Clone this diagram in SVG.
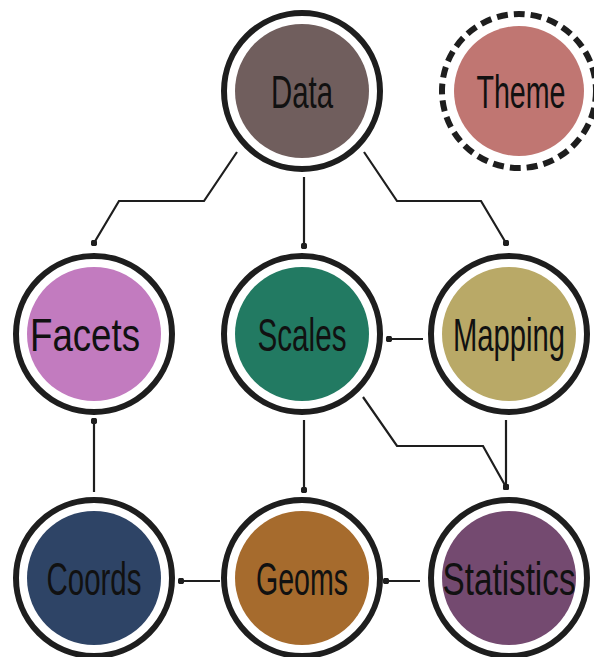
<svg xmlns="http://www.w3.org/2000/svg" width="594" height="657" viewBox="0 0 594 657">
<style>
.ring{fill:#fff;stroke:#1e1e1e;stroke-width:6}
.dash{fill:#fff;stroke:#1e1e1e;stroke-width:6;stroke-dasharray:11 6}
.lbl{font-family:"Liberation Sans","DejaVu Sans",sans-serif;font-size:46px;fill:#111;text-anchor:middle}
.edge{fill:none;stroke:#1e1e1e;stroke-width:2.2;marker-end:url(#dot)}
</style>
<defs>
<marker id="dot" viewBox="0 0 6 6" refX="3" refY="3" markerWidth="3" markerHeight="3" markerUnits="strokeWidth"><circle cx="3" cy="3" r="3" fill="#1e1e1e"/></marker>
</defs>
<rect width="594" height="657" fill="#fff"/>
<g id="connectors">
<polyline class="edge" points="237,152 204,201 119,201 94,243"/>
<line class="edge" x1="304" y1="177" x2="304" y2="246"/>
<polyline class="edge" points="364,152 397,201 481,201 506,243"/>
<line class="edge" x1="423" y1="339" x2="389" y2="339"/>
<line class="edge" x1="506" y1="420" x2="506" y2="487"/>
<polyline class="edge" points="363,397 397,446 483,446 506,487"/>
<line class="edge" x1="304" y1="420" x2="304" y2="490"/>
<line class="edge" x1="94" y1="492" x2="94" y2="421"/>
<line class="edge" x1="420" y1="581" x2="386" y2="581"/>
<line class="edge" x1="220" y1="581" x2="181" y2="581"/>
</g>
<g id="data"><circle class="ring" cx="302" cy="91" r="78"/><circle cx="302" cy="91" r="67" fill="#705e5d"/><text class="lbl" x="302" y="108" textLength="62" lengthAdjust="spacingAndGlyphs">Data</text></g>
<g id="theme"><circle class="dash" cx="519" cy="91" r="77"/><circle cx="519" cy="91" r="65" fill="#c07672"/><text class="lbl" x="521" y="108" textLength="89" lengthAdjust="spacingAndGlyphs">Theme</text></g>
<g id="facets"><circle class="ring" cx="94" cy="334" r="78"/><circle cx="94" cy="334" r="67" fill="#c27bbf"/><text class="lbl" x="85" y="351" textLength="110" lengthAdjust="spacingAndGlyphs">Facets</text></g>
<g id="scales"><circle class="ring" cx="302" cy="334" r="78"/><circle cx="302" cy="334" r="67" fill="#227a62"/><text class="lbl" x="302" y="351" textLength="89" lengthAdjust="spacingAndGlyphs">Scales</text></g>
<g id="mapping"><circle class="ring" cx="509" cy="334" r="78"/><circle cx="509" cy="334" r="67" fill="#b9a967"/><text class="lbl" x="509" y="351" textLength="112" lengthAdjust="spacingAndGlyphs">Mapping</text></g>
<g id="coords"><circle class="ring" cx="94" cy="578" r="78"/><circle cx="94" cy="578" r="67" fill="#2e4466"/><text class="lbl" x="94" y="595" textLength="95" lengthAdjust="spacingAndGlyphs">Coords</text></g>
<g id="geoms"><circle class="ring" cx="302" cy="578" r="78"/><circle cx="302" cy="578" r="67" fill="#a66b2d"/><text class="lbl" x="302" y="595" textLength="92" lengthAdjust="spacingAndGlyphs">Geoms</text></g>
<g id="statistics"><circle class="ring" cx="509" cy="578" r="78"/><circle cx="509" cy="578" r="67" fill="#744a70"/><text class="lbl" x="509" y="595" textLength="133" lengthAdjust="spacingAndGlyphs">Statistics</text></g>
</svg>
